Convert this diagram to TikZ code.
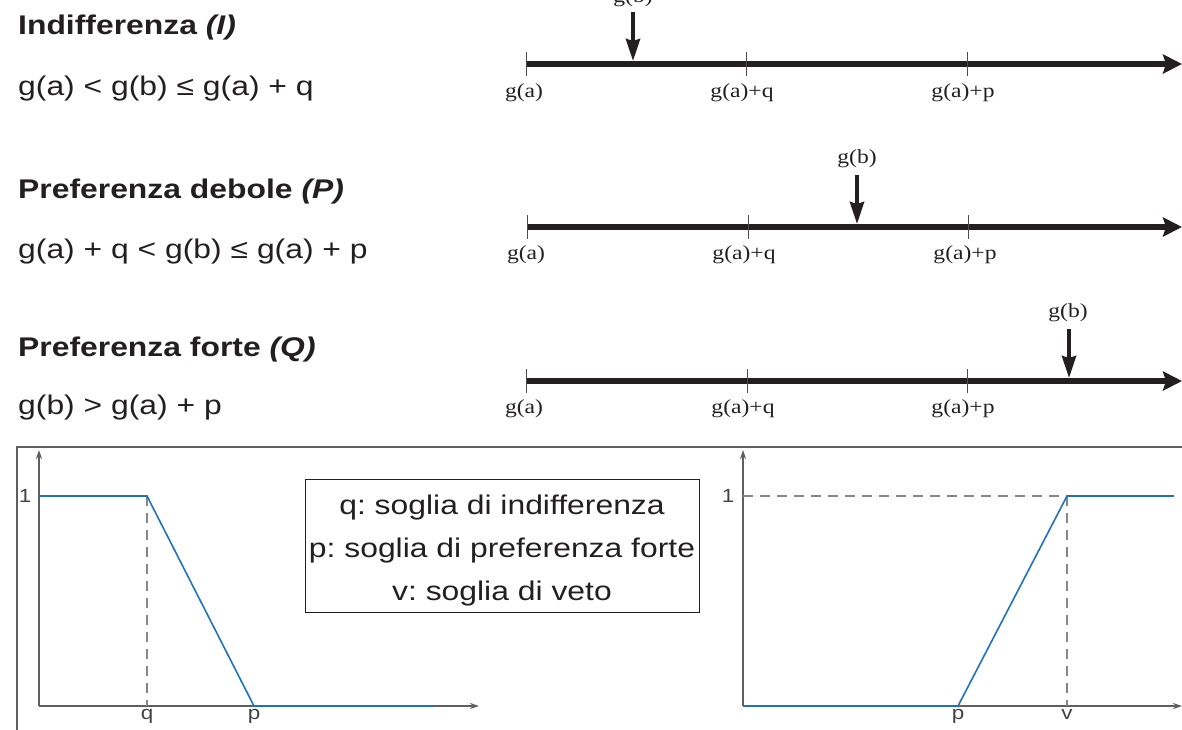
\documentclass[tikz,border=0pt]{standalone}
\usepackage{fontspec}
\setmainfont[FakeStretch=1.18]{Liberation Serif}
\newfontfamily\hv[FakeStretch=1.18]{Liberation Sans}
\usetikzlibrary{arrows.meta}
\definecolor{curve}{RGB}{31,114,192}
\definecolor{axisgray}{RGB}{95,95,95}
\definecolor{dashgray}{RGB}{135,135,135}
\definecolor{ink}{RGB}{35,31,32}
\frenchspacing
\begin{document}
\begin{tikzpicture}[x=1pt,y=-1pt,
  title/.style={anchor=base west,inner sep=0pt,text=ink,font=\hv\fontsize{27}{32}\selectfont\bfseries},
  formula/.style={anchor=base west,inner sep=0pt,text=ink,font=\hv\fontsize{27}{32}\selectfont},
  lab/.style={anchor=base,inner sep=0pt,text=ink,font=\fontsize{20}{22}\selectfont},
  numline/.style={ink,line width=5.5pt,-{Stealth[length=19pt,width=19pt,inset=3pt]}},
  tickmark/.style={ink!80,line width=0.8pt},
  down/.style={ink,line width=4pt,-{Stealth[length=22pt,width=14pt,inset=2pt]}},
  axis/.style={axisgray,line width=1.1pt,-{Stealth[length=9pt,width=6pt]}},
  guide/.style={dashgray,line width=1.2pt,dash pattern=on 10pt off 7pt},
  fcurve/.style={curve,line width=1.6pt},
  plab/.style={inner sep=0pt,text=ink!85,font=\hv\fontsize{19}{21}\selectfont}
]
\useasboundingbox (0,0) rectangle (1182,729);
% ---------- left texts
\node[title] (t1) at (18,34) {Indifferenza \itshape(I)};
\node[formula] (f1) at (18,95) {g(a) < g(b) ≤ g(a) + q};
\node[title] (t2) at (18,198) {Preferenza debole \itshape(P)};
\node[formula] (f2) at (18,258) {g(a) + q < g(b) ≤ g(a) + p};
\node[title] (t3) at (18,356) {Preferenza forte \itshape(Q)};
\node[formula] (f3) at (18,414) {g(b) > g(a) + p};
% ---------- number line 1
\coordinate (s1) at (526,64); \coordinate (e1) at (1182,64);
\draw[numline] (s1) -- (e1);
\foreach \x in {526,746,967} \draw[tickmark] (\x,52) -- (\x,76);
\node[lab] (l1a) at (524,97) {g(a)};
\node[lab] (l1q) at (742,97) {g(a)+q};
\node[lab] (l1p) at (963,97) {g(a)+p};
\node[lab] (b1) at (633,2) {g(b)};
\coordinate (b1s) at (633,12); \coordinate (b1t) at (633,61);
\draw[down] (b1s) -- (b1t);
% ---------- number line 2
\coordinate (s2) at (527,227); \coordinate (e2) at (1182,227);
\draw[numline] (s2) -- (e2);
\foreach \x in {527,748,968} \draw[tickmark] (\x,215) -- (\x,239);
\node[lab] (l2a) at (526,259) {g(a)};
\node[lab] (l2q) at (744,259) {g(a)+q};
\node[lab] (l2p) at (965,259) {g(a)+p};
\node[lab] (b2) at (857,163) {g(b)};
\coordinate (b2s) at (857,175); \coordinate (b2t) at (857,224);
\draw[down] (b2s) -- (b2t);
% ---------- number line 3
\coordinate (s3) at (526,381); \coordinate (e3) at (1182,381);
\draw[numline] (s3) -- (e3);
\foreach \x in {526,747,967} \draw[tickmark] (\x,369) -- (\x,393);
\node[lab] (l3a) at (524,413) {g(a)};
\node[lab] (l3q) at (743,413) {g(a)+q};
\node[lab] (l3p) at (963,413) {g(a)+p};
\node[lab] (b3) at (1068,317) {g(b)};
\coordinate (b3s) at (1069,329); \coordinate (b3t) at (1069,378);
\draw[down] (b3s) -- (b3t);
% ---------- frame
\draw[axisgray,line width=1.1pt] (17,760) -- (17,447) -- (1200,447);
% ---------- left plot
\coordinate (o1) at (39,706);
\coordinate (y1) at (39,450);
\coordinate (x1) at (479,706);
\draw[axis] (o1) -- (y1);
\draw[axis] (o1) -- (x1);
\draw[guide] (147,496) -- (147,706);
\draw[fcurve] (39,496) -- (147,496) -- (254,706) -- (434,706);
\node[plab] (one1) at (25,496) {1};
\node[plab,anchor=north] (q1) at (147,709) {q};
\node[plab,anchor=north] (p1) at (254,709) {p};
% ---------- right plot
\coordinate (o2) at (743,706);
\coordinate (y2) at (743,450);
\coordinate (x2) at (1182,706);
\draw[axis] (o2) -- (y2);
\draw[axis] (o2) -- (x2);
\draw[guide] (743,496) -- (1067,496);
\draw[guide] (1067,496) -- (1067,706);
\draw[fcurve] (743,706) -- (958,706) -- (1067,496) -- (1174,496);
\node[plab] (one2) at (728,496) {1};
\node[plab,anchor=north] (p2) at (958,709) {p};
\node[plab,anchor=north] (v2) at (1067,709) {v};
% ---------- legend box
\node[draw=ink,line width=1pt,minimum width=394pt,minimum height=133pt,inner sep=0pt] (legend) at (502,545.5) {};
\node[inner sep=0pt,align=center,text=ink,font=\hv\fontsize{27}{43}\selectfont] (legendtext) at (502,551)
  {q: soglia di indifferenza\\p: soglia di preferenza forte\\v: soglia di veto};
\end{tikzpicture}
\end{document}
